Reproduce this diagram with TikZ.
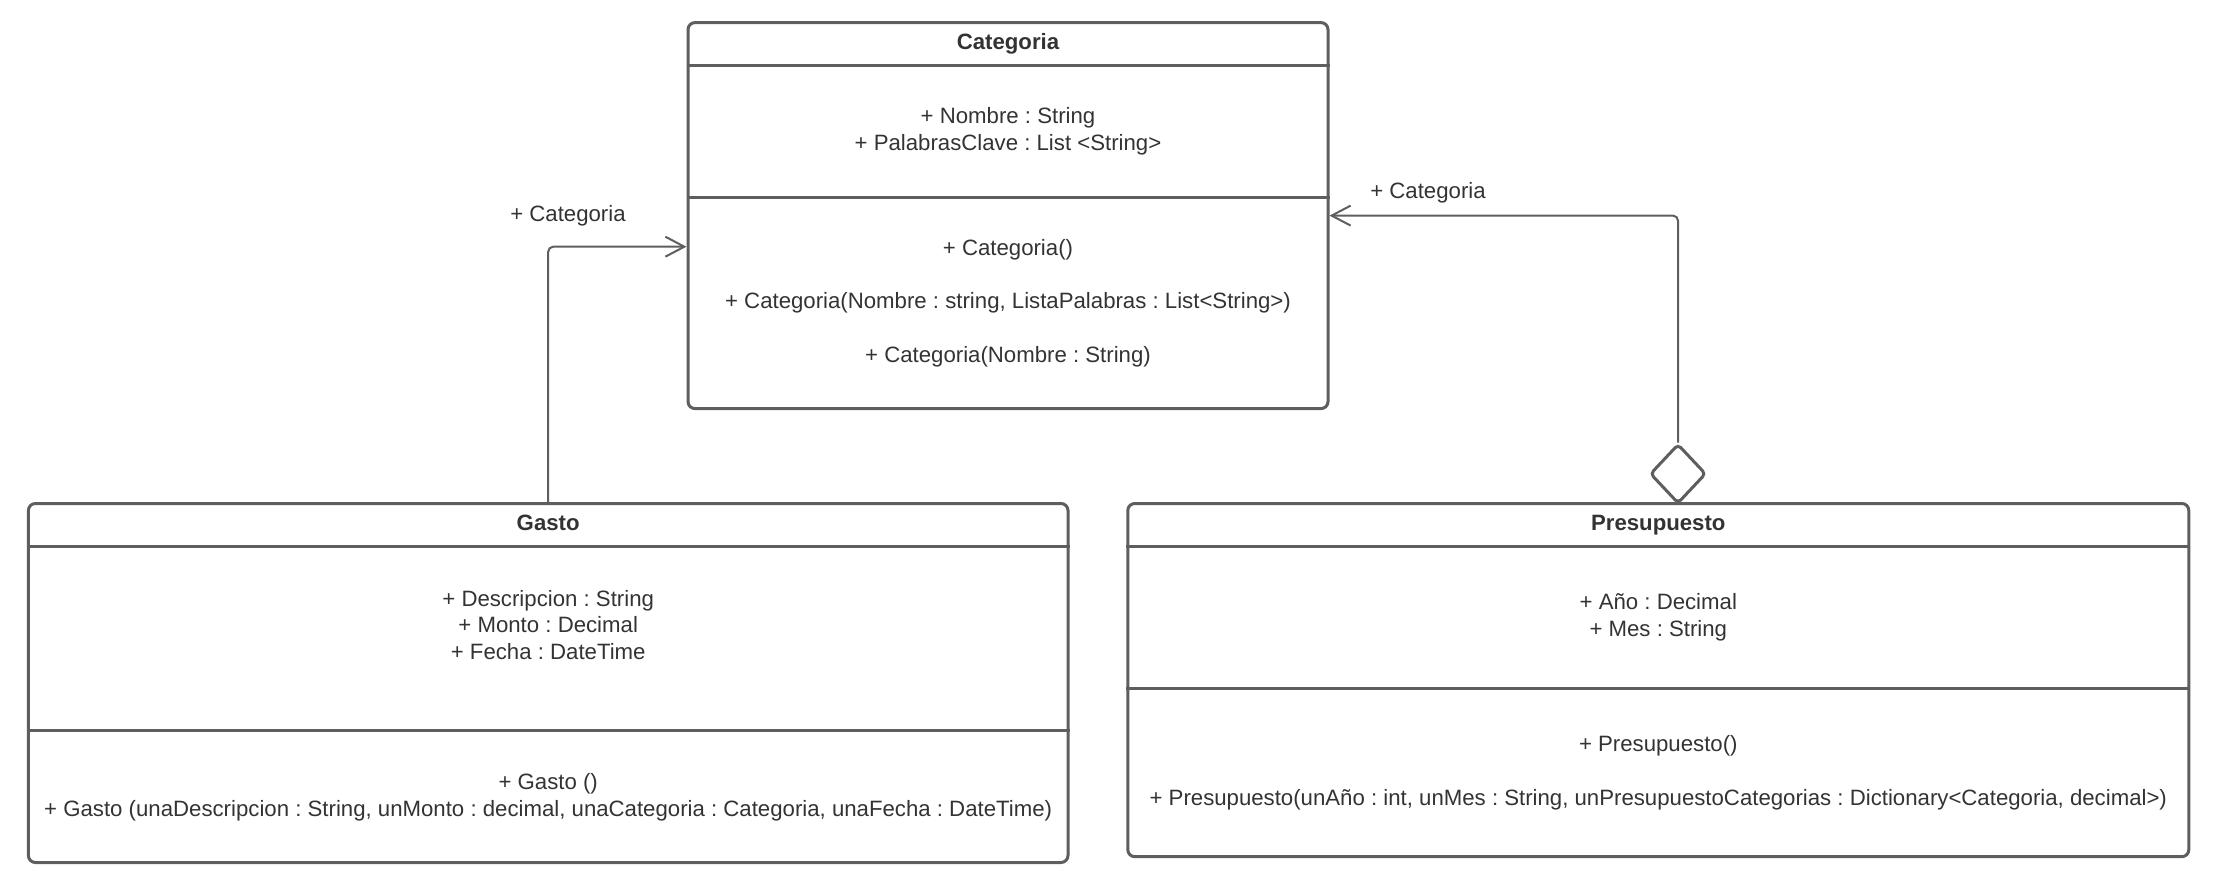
\documentclass[tikz,border=0pt]{standalone}
\usepackage{fontspec}
\setmainfont{Liberation Sans}
\usetikzlibrary{arrows.meta,shapes.geometric}
\definecolor{linec}{HTML}{5E5E5E}
\definecolor{textc}{HTML}{333333}
\frenchspacing
\begin{document}
\begin{tikzpicture}[x=0.5pt,y=-0.5pt,
  classbox/.style={draw=linec, line width=1.5pt, rounded corners=3.5pt, inner sep=0pt},
  divider/.style={draw=linec, line width=1.5pt},
  txt/.style={text=textc, font=\frenchspacing\fontsize{11.1pt}{13.4pt}\selectfont, align=center, inner sep=0pt},
  ttl/.style={text=textc, font=\bfseries\fontsize{11.1pt}{13.4pt}\selectfont, align=center, inner sep=0pt, text height=8.2pt, text depth=2.4pt},
  conn/.style={draw=linec, line width=1pt, rounded corners=2.5pt},
  openarrow/.style={-{Straight Barb[length=9.5pt,width=10pt]}},
  aggr/.style={diamond, draw=linec, line width=1.5pt, fill=white, inner sep=0pt, minimum width=28pt, minimum height=29.75pt, rounded corners=2pt}]
\useasboundingbox (0,0) rectangle (2224,883);

% Categoria
\node[classbox, minimum width=320pt, minimum height=193pt] (cat) at (1008,215.6) {};
\coordinate (catH) at (0,65.2);
\coordinate (catD) at (0,197.2);
\draw[divider] (cat.west |- catH) -- (cat.east |- catH);
\draw[divider] (cat.west |- catD) -- (cat.east |- catD);
\node[ttl] (catT) at (1008,43.5) {Categoria};
\node[txt] (catA) at (1008,131.5) {+ Nombre : String\\+ PalabrasClave : List <String>};
\node[txt] (catM) at (1008,303) {+ Categoria()\\[13.4pt]+ Categoria(Nombre : string, ListaPalabras : List<String>)\\[13.4pt]+ Categoria(Nombre : String)};

% Gasto
\node[classbox, minimum width=519.8pt, minimum height=179.5pt] (gasto) at (548.2,683) {};
\coordinate (gasH) at (0,546);
\coordinate (gasD) at (0,730.5);
\draw[divider] (gasto.west |- gasH) -- (gasto.east |- gasH);
\draw[divider] (gasto.west |- gasD) -- (gasto.east |- gasD);
\node[ttl] (gasT) at (548.2,524.5) {Gasto};
\node[txt] (gasA) at (548.2,625) {+ Descripcion : String\\+ Monto : Decimal\\+ Fecha : DateTime};
\node[txt] (gasM) at (548.2,797.5) {+ Gasto ()\\+ Gasto (unaDescripcion : String, unMonto : decimal, unaCategoria : Categoria, unaFecha : DateTime)};

% Presupuesto
\node[classbox, minimum width=530.5pt, minimum height=176.6pt] (pre) at (1658.3,680.1) {};
\coordinate (preH) at (0,546);
\coordinate (preD) at (0,688);
\draw[divider] (pre.west |- preH) -- (pre.east |- preH);
\draw[divider] (pre.west |- preD) -- (pre.east |- preD);
\node[ttl] (preT) at (1658.3,524.5) {Presupuesto};
\node[txt] (preA) at (1658.3,617) {+ Año : Decimal\\+ Mes : String};
\node[txt] (preM) at (1658.3,773) {+ Presupuesto()\\[13.4pt]+ Presupuesto(unAño : int, unMes : String, unPresupuestoCategorias : Dictionary<Categoria, decimal>)};

% Aggregation diamond
\node[aggr] (dia) at (1678,473.8) {};

% Connectors
\coordinate (y1) at (0,246.7);
\coordinate (c1) at (cat.west |- y1);
\draw[conn, openarrow] (gasto.north) |- (c1);
\node[txt] (lab1) at (568,216) {+ Categoria};

\draw[conn, openarrow] (dia.north) |- (cat.east);
\node[txt] (lab2) at (1428,193) {+ Categoria};
\end{tikzpicture}
\end{document}
